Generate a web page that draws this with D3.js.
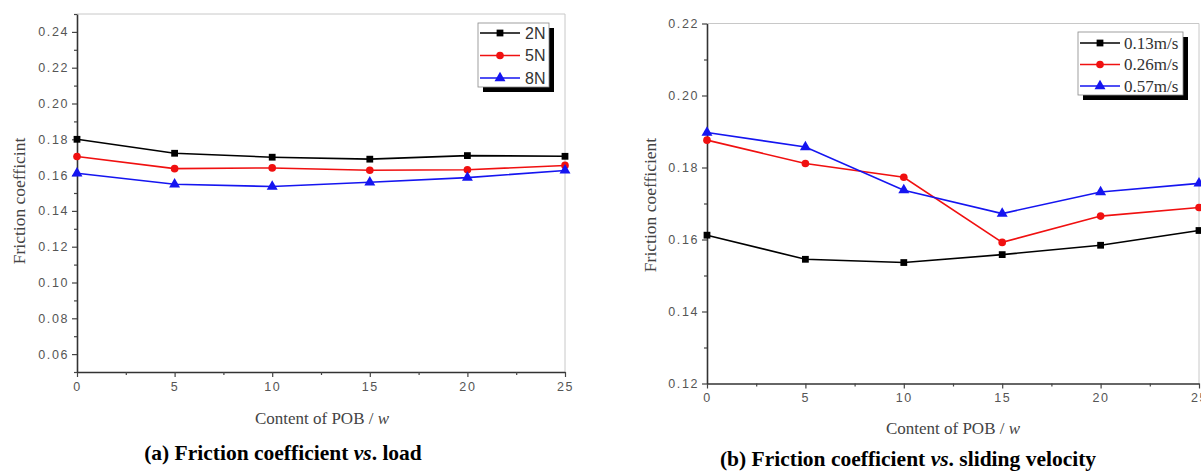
<!DOCTYPE html>
<html>
<head>
<meta charset="utf-8">
<script src="https://cdn.jsdelivr.net/npm/d3@7"></script>
<style>
  html, body { margin: 0; padding: 0; background: #fff; }
  svg { display: block; }
  .tick text { font-family: "Liberation Sans", Arial, sans-serif; font-size: 12.5px; letter-spacing: 1.6px; fill: #555; }
</style>
</head>
<body>
<svg id="chart" width="1201" height="471"></svg>
<script>
// POB content (wt%) on the x axis, shared by both panels
const content = [0, 5, 10, 15, 20, 25];

// Panel (a): friction coefficient under different loads
const loadNames = ["2N", "5N", "8N"];
const load2N = [0.180, 0.1722, 0.170, 0.1689, 0.1709, 0.1705];
const load5N = [0.1704, 0.1636, 0.164, 0.1627, 0.163, 0.1654];
const load8N = [0.161, 0.1549, 0.1536, 0.156, 0.1586, 0.1626];

// Panel (b): friction coefficient at different sliding velocities
const speedNames = ["0.13m/s", "0.26m/s", "0.57m/s"];
const speed013 = [0.1612, 0.1545, 0.1536, 0.1558, 0.1584, 0.1625];
const speed026 = [0.1876, 0.1811, 0.1773, 0.1592, 0.1665, 0.1689];
const speed057 = [0.1897, 0.1857, 0.1737, 0.1672, 0.1732, 0.1756];

// Axis tick values
const xTicks = [0, 5, 10, 15, 20, 25];
const xMinor = [2.5, 7.5, 12.5, 17.5, 22.5];
const yTicksA = [0.06, 0.08, 0.10, 0.12, 0.14, 0.16, 0.18, 0.20, 0.22, 0.24];
const yMinorA = [0.05, 0.07, 0.09, 0.11, 0.13, 0.15, 0.17, 0.19, 0.21, 0.23, 0.25];
const yTicksB = [0.12, 0.14, 0.16, 0.18, 0.20, 0.22];
const yMinorB = [0.13, 0.15, 0.17, 0.19, 0.21];

const colors = ["#000000", "#f01010", "#1515f0"];
const shapes = [d3.symbolSquare, d3.symbolCircle, d3.symbolTriangle];
const symSizes = [46, 46, 52];

const svg = d3.select("#chart");
const serif = '"Liberation Serif", "Times New Roman", serif';
const sans = '"Liberation Sans", Arial, sans-serif';

function panel(cfg) {
  const g = svg.append("g");
  const x = d3.scaleLinear().domain([0, 25]).range([cfg.left, cfg.right]);
  const y = d3.scaleLinear().domain(cfg.yDomain).range([cfg.bottom, cfg.top]);

  // light frame on top and right
  g.append("path")
    .attr("d", `M${cfg.left},${cfg.top}H${cfg.right}V${cfg.bottom}`)
    .attr("fill", "none").attr("stroke", "#c8c8c8").attr("stroke-width", 1);

  // x axis
  g.append("g").attr("transform", `translate(0,${cfg.bottom})`)
    .call(d3.axisBottom(x).tickValues(xTicks).tickFormat(d3.format("d")).tickSizeInner(5).tickSizeOuter(0).tickPadding(5));
  g.append("g").attr("transform", `translate(0,${cfg.bottom})`)
    .call(d3.axisBottom(x).tickValues(xMinor).tickFormat("").tickSizeInner(3).tickSizeOuter(0))
    .call(s => s.select(".domain").remove());

  // y axis
  g.append("g").attr("transform", `translate(${cfg.left},0)`)
    .call(d3.axisLeft(y).tickValues(cfg.yTicks).tickFormat(d3.format(".2f")).tickSizeInner(5).tickSizeOuter(0).tickPadding(3));
  g.append("g").attr("transform", `translate(${cfg.left},0)`)
    .call(d3.axisLeft(y).tickValues(cfg.yMinor).tickFormat("").tickSizeInner(3).tickSizeOuter(0))
    .call(s => s.select(".domain").remove());

  g.selectAll(".domain").attr("stroke", "#333").attr("stroke-width", 1.6);
  g.selectAll(".tick line").attr("stroke", "#444").attr("stroke-width", 1.2);

  // axis titles
  const xl = g.append("text")
    .attr("x", cfg.xLabelX).attr("y", cfg.xLabelY)
    .attr("text-anchor", "middle")
    .attr("font-family", serif).attr("font-size", 17).attr("fill", "#444");
  xl.append("tspan").text("Content of POB / ");
  xl.append("tspan").attr("font-style", "italic").text("w");

  g.append("text")
    .attr("transform", `translate(${cfg.yLabelX},${cfg.yLabelY}) rotate(-90)`)
    .attr("text-anchor", "middle")
    .attr("font-family", serif).attr("font-size", 17.5).attr("fill", "#444")
    .text(cfg.yLabel);

  // series lines and markers
  const line = d3.line().x((d, i) => x(content[i])).y(d => y(d));
  cfg.series.forEach((vals, k) => {
    g.append("path").datum(vals)
      .attr("d", line).attr("fill", "none")
      .attr("stroke", colors[k]).attr("stroke-width", 1.6);
    g.selectAll(null).data(vals).enter().append("path")
      .attr("transform", (d, i) => `translate(${x(content[i])},${y(d)})`)
      .attr("d", d3.symbol().type(shapes[k]).size(symSizes[k]))
      .attr("fill", colors[k]);
  });

  // legend with drop shadow
  const L = cfg.legend;
  g.append("rect").attr("x", L.x + 5).attr("y", L.y + 5).attr("width", L.w).attr("height", L.h).attr("fill", "#000");
  g.append("rect").attr("x", L.x).attr("y", L.y).attr("width", L.w).attr("height", L.h)
    .attr("fill", "#fff").attr("stroke", "#888").attr("stroke-width", 0.8);
  cfg.names.forEach((name, k) => {
    const cy = L.y + L.first + k * L.step;
    g.append("line").attr("x1", L.x + 2).attr("x2", L.x + 42).attr("y1", cy).attr("y2", cy)
      .attr("stroke", colors[k]).attr("stroke-width", 1.6);
    g.append("path").attr("transform", `translate(${L.x + 22},${cy})`)
      .attr("d", d3.symbol().type(shapes[k]).size(symSizes[k])).attr("fill", colors[k]);
    g.append("text").attr("x", L.x + L.tx).attr("y", cy + 5.5)
      .attr("font-family", L.font).attr("font-size", L.size).attr("fill", "#333")
      .text(name);
  });

  // caption
  const cap = svg.append("text")
    .attr("x", cfg.capX).attr("y", cfg.capY).attr("text-anchor", "middle")
    .attr("font-family", serif).attr("font-size", 21.5).attr("font-weight", "bold").attr("fill", "#000");
  cap.append("tspan").text(cfg.capPre);
  cap.append("tspan").attr("font-style", "italic").text("vs");
  cap.append("tspan").text(cfg.capPost);
}

panel({
  left: 77, right: 565, top: 14, bottom: 372,
  yDomain: [0.05, 0.25], yTicks: yTicksA, yMinor: yMinorA,
  series: [load2N, load5N, load8N], names: loadNames,
  xLabelX: 322, xLabelY: 424, yLabelX: 25, yLabelY: 201,
  yLabel: "Friction coefficint",
  legend: { x: 478, y: 23, w: 71, h: 64, first: 10, step: 22.5, tx: 47, font: sans, size: 16 },
  capX: 283, capY: 460, capPre: "(a) Friction coefficient ", capPost: ". load"
});

panel({
  left: 707, right: 1199, top: 23.5, bottom: 383.5,
  yDomain: [0.12, 0.22], yTicks: yTicksB, yMinor: yMinorB,
  series: [speed013, speed026, speed057], names: speedNames,
  xLabelX: 953, xLabelY: 434, yLabelX: 656, yLabelY: 205,
  yLabel: "Friction coefficient",
  legend: { x: 1078, y: 32, w: 105, h: 63, first: 11, step: 21.5, tx: 46, font: serif, size: 17 },
  capX: 908, capY: 466, capPre: "(b) Friction coefficient ", capPost: ". sliding velocity"
});
</script>
</body>
</html>
